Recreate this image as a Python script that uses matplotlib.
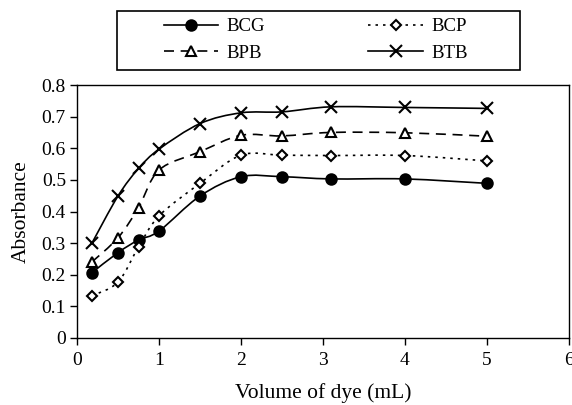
import matplotlib
matplotlib.use("Agg")
import matplotlib.pyplot as plt
from matplotlib.path import Path
from matplotlib.patches import PathPatch, Rectangle
from matplotlib.lines import Line2D

plt.rcParams['font.family'] = ['Liberation Serif', 'DejaVu Serif']

volume = [0.18, 0.5, 0.75, 1.0, 1.5, 2.0, 2.5, 3.1, 4.0, 5.0]
bcg = [0.206, 0.270, 0.310, 0.338, 0.449, 0.510, 0.510, 0.503, 0.503, 0.489]
bcp = [0.133, 0.177, 0.288, 0.386, 0.489, 0.578, 0.578, 0.577, 0.577, 0.560]
bpb = [0.240, 0.317, 0.412, 0.531, 0.589, 0.641, 0.639, 0.650, 0.649, 0.638]
btb = [0.299, 0.449, 0.536, 0.597, 0.678, 0.712, 0.715, 0.731, 0.729, 0.726]
series_names = ['BCG', 'BCP', 'BPB', 'BTB']
x_ticks = [0, 1, 2, 3, 4, 5, 6]
y_ticks = [0, 0.1, 0.2, 0.3, 0.4, 0.5, 0.6, 0.7, 0.8]


def smooth_path(xs, ys):
    pts = list(zip(xs, ys))
    n = len(pts)
    verts = [pts[0]]
    codes = [Path.MOVETO]
    for i in range(n - 1):
        p0 = pts[i - 1] if i > 0 else pts[i]
        p1 = pts[i]
        p2 = pts[i + 1]
        p3 = pts[i + 2] if i + 2 < n else pts[i + 1]
        c1 = (p1[0] + (p2[0] - p0[0]) / 6, p1[1] + (p2[1] - p0[1]) / 6)
        c2 = (p2[0] - (p3[0] - p1[0]) / 6, p2[1] - (p3[1] - p1[1]) / 6)
        verts += [c1, c2, p2]
        codes += [Path.CURVE4] * 3
    return Path(verts, codes)


W, H = 572, 405
fig = plt.figure(figsize=(W / 100, H / 100), dpi=100)
ax = fig.add_axes([77 / W, 1 - 338 / H, (569 - 77) / W, (338 - 85) / H])

styles = {
    'BCG': dict(ls='-', marker='o', mfc='black', ms=7.5, dashes=None),
    'BCP': dict(ls=':', marker='D', mfc='white', ms=5, dashes=(1.5, 3)),
    'BPB': dict(ls='--', marker='^', mfc='white', ms=6.5, dashes=(6, 4)),
    'BTB': dict(ls='-', marker='x', mfc='black', ms=8, dashes=None),
}
data = {'BCG': bcg, 'BCP': bcp, 'BPB': bpb, 'BTB': btb}

handles = {}
for name in series_names:
    st = styles[name]
    ys = data[name]
    patch = PathPatch(smooth_path(volume, ys), fill=False, edgecolor='black',
                      lw=1.2, linestyle=st['ls'] if st['dashes'] is None else (0, st['dashes']),
                      zorder=2)
    ax.add_patch(patch)
    ax.plot(volume, ys, linestyle='none', marker=st['marker'], color='black',
            mfc=st['mfc'], mec='black', ms=st['ms'], mew=1.5, zorder=3)
    kw = dict(color='black', lw=1.2, marker=st['marker'], mfc=st['mfc'],
              mec='black', ms=st['ms'], mew=1.5)
    if st['dashes'] is not None:
        kw['dashes'] = st['dashes']
    else:
        kw['linestyle'] = '-'
    handles[name] = Line2D([], [], **kw)

ax.set_xlim(0, 6)
ax.set_ylim(0, 0.8)
ax.set_xticks(x_ticks)
ax.set_yticks(y_ticks)
ax.set_xticklabels([str(t) for t in x_ticks])
ax.set_yticklabels(['0' if t == 0 else f'{t:.1f}' for t in y_ticks])
ax.tick_params(axis='both', direction='out', length=5, width=1, labelsize=14, pad=3)
ax.tick_params(axis='x', pad=5)
for sp in ax.spines.values():
    sp.set_linewidth(1.0)
ax.set_xlabel('Volume of dye (mL)', fontsize=15.5, labelpad=10)
ax.set_ylabel('Absorbance', fontsize=15.5, labelpad=8)

# legend frame
fig.patches.append(Rectangle((117 / W, 1 - 70 / H), (520 - 117) / W, 59 / H,
                             transform=fig.transFigure, fill=False,
                             edgecolor='black', lw=1.2, zorder=5))
order = ['BCG', 'BPB', 'BCP', 'BTB']
leg = fig.legend([handles[n] for n in order], order, ncol=2,
                 loc='upper left', bbox_to_anchor=(164 / W, 1 - 18 / H),
                 fontsize=13.5, frameon=False,
                 handlelength=2.9, handletextpad=0.45, borderpad=0,
                 labelspacing=0.5, borderaxespad=0, columnspacing=5.5)

fig.savefig('out.png', dpi=100)
